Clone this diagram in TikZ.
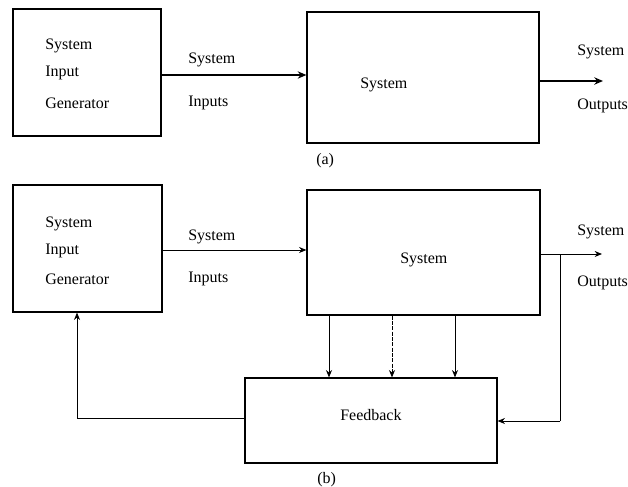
\documentclass[tikz,border=0pt]{standalone}
\usepackage{fontspec}
\setmainfont{Liberation Serif}
\usetikzlibrary{arrows.meta}
\begin{document}
\begin{tikzpicture}[x=0.75pt,y=-0.75pt,
  box/.style={draw,line width=0.9pt,inner sep=0pt},
  lbl/.style={anchor=base west,inner sep=0pt,font=\fontsize{12}{14}\selectfont},
  arr/.style={line width=0.7pt,-{Stealth[length=5.5pt,width=4.5pt]}},
  arrA/.style={line width=1.1pt,-{Stealth[length=6.5pt,width=5.5pt]}},
  ln/.style={line width=0.7pt}]
\useasboundingbox (0,0) rectangle (628,486);
% (a)
\node[box,minimum width=111pt,minimum height=95.25pt] (genA) at (87,72.5) {};
\node[box,minimum width=174pt,minimum height=98.25pt] (sysA) at (423,77.5) {};
\node[lbl] (ga1) at (45,49) {System};
\node[lbl] (ga2) at (45,76) {Input};
\node[lbl] (ga3) at (45,108) {Generator};
\node[lbl] (ia1) at (188,63) {System};
\node[lbl] (ia2) at (188,106) {Inputs};
\node[lbl] (sa) at (360,88) {System};
\node[lbl] (oa1) at (577,55) {System};
\node[lbl] (oa2) at (577,109) {Outputs};
\node[lbl] (capa) at (316,164) {(a)};
\coordinate (outA) at (603,81);
\draw[arrA] (genA.east |- 0,75) -- (sysA.west |- 0,75);
\draw[arrA] (sysA.east |- outA) -- (outA);
% (b)
\node[box,minimum width=111.75pt,minimum height=95.25pt] (genB) at (87.5,248.5) {};
\node[box,minimum width=174.75pt,minimum height=93.75pt] (sysB) at (423.5,252.5) {};
\node[box,minimum width=189pt,minimum height=63.75pt] (fb) at (371,420.5) {};
\node[lbl] (gb1) at (45,227) {System};
\node[lbl] (gb2) at (45,254) {Input};
\node[lbl] (gb3) at (45,284) {Generator};
\node[lbl] (ib1) at (188,240) {System};
\node[lbl] (ib2) at (188,282) {Inputs};
\node[lbl] (sb) at (400,263) {System};
\node[lbl] (ob1) at (577,235) {System};
\node[lbl] (ob2) at (577,286) {Outputs};
\node[lbl] (fbt) at (340,420) {Feedback};
\node[lbl] (capb) at (317,483) {(b)};
\coordinate (outB) at (602,254);
\coordinate (br) at (560,254);
\coordinate (brd) at (560,421);
\draw[arr] (genB.east |- 0,250) -- (sysB.west |- 0,250);
\draw[arr] (sysB.east |- outB) -- (outB);
\draw[ln] (br) -- (brd);
\draw[arr] (brd) -- (fb.east |- brd);
\draw[arr] (sysB.south -| 329,0) -- (fb.north -| 329,0);
\draw[arr,dash pattern=on 3pt off 1pt] (sysB.south -| 392,0) -- (fb.north -| 392,0);
\draw[arr] (sysB.south -| 455,0) -- (fb.north -| 455,0);
\draw[arr] (fb.west |- 0,418) -| (genB.south -| 77,0);
\end{tikzpicture}
\end{document}
